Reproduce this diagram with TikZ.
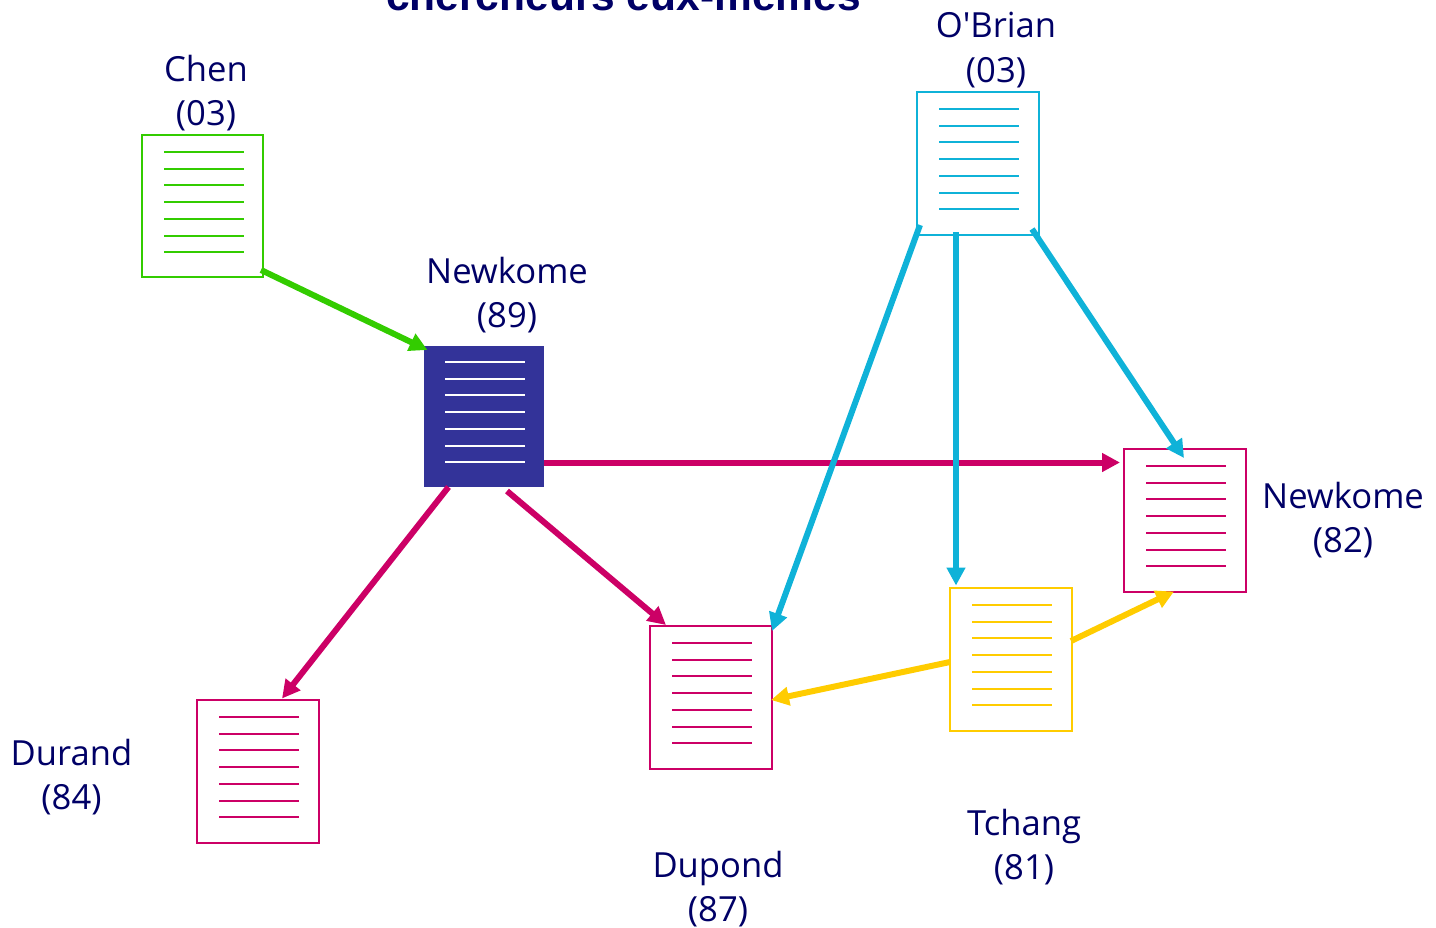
\documentclass[tikz,border=0pt]{standalone}
\usepackage{fontspec}
\newfontfamily\labelfont{Open Sans}
\newfontfamily\titlefont{Liberation Sans}
\usetikzlibrary{arrows.meta,calc}
\definecolor{navytext}{HTML}{000066}
\definecolor{pinkc}{HTML}{CC0066}
\definecolor{greenc}{HTML}{33CC00}
\definecolor{cyanc}{HTML}{0FB2D8}
\definecolor{yellowc}{HTML}{FFCC00}
\definecolor{bluefill}{HTML}{333399}
\tikzset{
  x=1pt,y=-1pt,
  docbox/.style={draw=#1,line width=2pt,fill=white,minimum width=122pt,minimum height=143pt,inner sep=0pt,outer sep=0pt,anchor=north west},
  conn/.style={draw=#1,line width=6pt,-{Triangle[length=18pt,width=18pt]}},
  lbl/.style={text=navytext,align=center,inner sep=0pt,font=\labelfont\fontsize{34.6}{44.5}\selectfont},
  ttl/.style={text=navytext,inner sep=0pt,anchor=base,font=\titlefont\bfseries\fontsize{42.5}{48}\selectfont},
}
\newcommand{\docrules}[4]{%
  \foreach \k in {17,34,50,67,84,101,117}
    \draw[#2,line width=2pt] ($(#1.north west)+(#3,\k+#4)$) -- +(80,0);
}
\begin{document}
\begin{tikzpicture}
\useasboundingbox (0,0) rectangle (1436,927);
\clip (0,0) rectangle (1436,927);
\node[ttl] (title) at (623.5,10) {chercheurs eux-mêmes};

\node[docbox=greenc,minimum width=121pt,minimum height=142pt] (chen) at (142,135) {};
\docrules{chen}{greenc}{22}{0}
\node[docbox=cyanc] (obrian) at (917,92) {};
\docrules{obrian}{cyanc}{22}{0}
\node[docbox=bluefill,fill=bluefill,minimum width=118.5pt,minimum height=138.5pt] (newkomeA) at (424.5,347) {};
\docrules{newkomeA}{white}{20.5}{-2}
\node[docbox=pinkc] (newkomeB) at (1124,449) {};
\docrules{newkomeB}{pinkc}{22}{0}
\node[docbox=yellowc] (tchang) at (950,588) {};
\docrules{tchang}{yellowc}{22}{0}
\node[docbox=pinkc] (dupond) at (650,626) {};
\docrules{dupond}{pinkc}{22}{0}
\node[docbox=pinkc] (durand) at (197,700) {};
\docrules{durand}{pinkc}{22}{0}

\node[lbl] (lchen) at (206,93) {Chen\\(03)};
\node[lbl] (lobrian) at (996,50) {O'Brian\\(03)};
\node[lbl] (lnewkomeA) at (507,295) {Newkome\\(89)};
\node[lbl] (lnewkomeB) at (1343,520) {Newkome\\(82)};
\node[lbl] (ldurand) at (71.5,777) {Durand\\(84)};
\node[lbl] (ldupond) at (718,889) {Dupond\\(87)};
\node[lbl] (ltchang) at (1024,847) {Tchang\\(81)};

\draw[conn=greenc] ($(chen.north west)+(119,135)$) -- ($(newkomeA.north west)+(3,3)$);
\draw[conn=pinkc] ($(newkomeA.north west)+(119.5,115.5)$) -- ($(newkomeB.north west)+(-4,13.5)$);
\draw[conn=pinkc] ($(newkomeA.north west)+(24,140)$) -- ($(durand.north west)+(85,-1.5)$);
\draw[conn=pinkc] ($(newkomeA.north west)+(82.5,144)$) -- ($(dupond.north west)+(16,-1)$);
\draw[conn=cyanc] ($(obrian.north west)+(3,133)$) -- ($(dupond.north west)+(122,5)$);
\draw[conn=cyanc] ($(obrian.north west)+(39,140)$) -- ($(tchang.north west)+(6,-2.5)$);
\draw[conn=cyanc] ($(obrian.north west)+(115,137)$) -- ($(newkomeB.north west)+(60,9)$);
\draw[conn=yellowc] ($(tchang.north west)+(0,74)$) -- ($(dupond.north west)+(121,74)$);
\draw[conn=yellowc] ($(tchang.north west)+(121,53)$) -- ($(newkomeB.north west)+(50,142.5)$);
\end{tikzpicture}
\end{document}
